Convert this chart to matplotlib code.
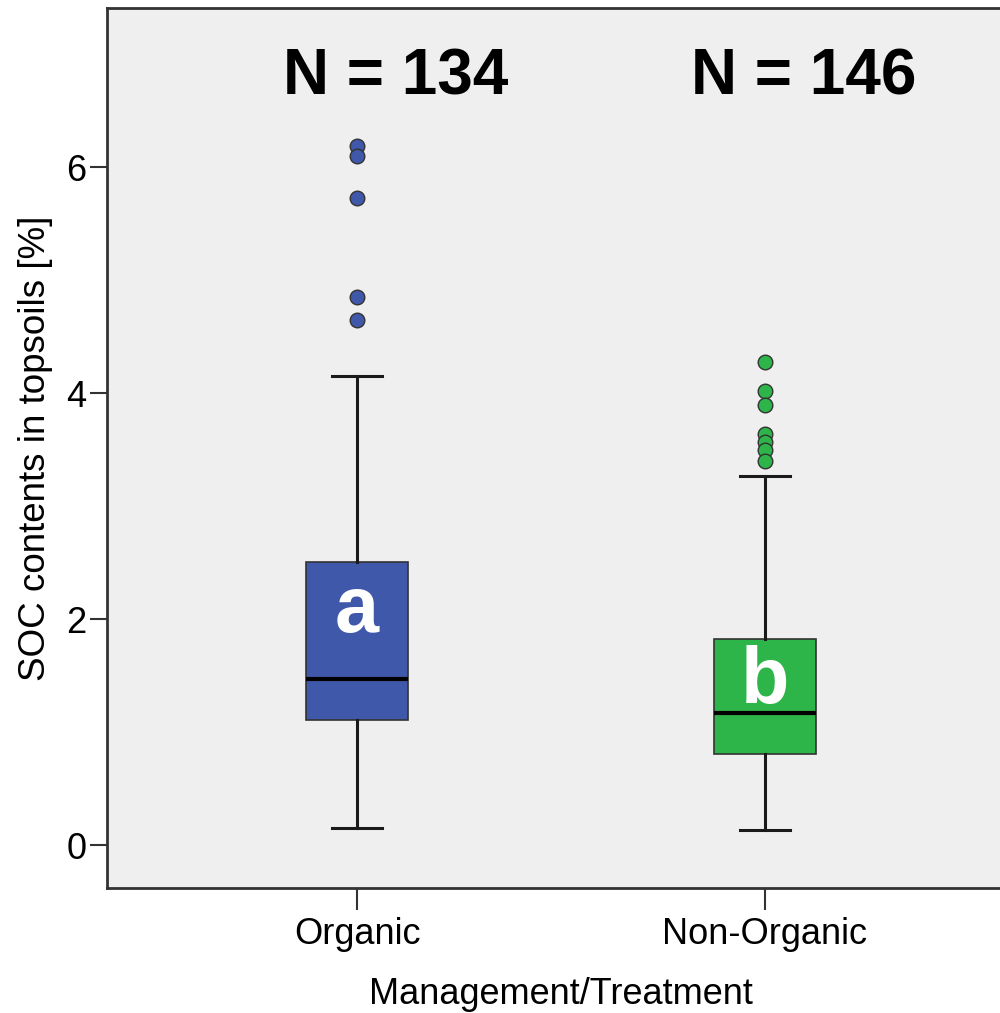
import matplotlib
matplotlib.use("Agg")
import matplotlib.pyplot as plt

plt.rcParams['font.family'] = ['Liberation Sans', 'DejaVu Sans']

categories = ["Organic", "Non-Organic"]
counts = [134, 146]
letters = ["a", "b"]
whislo = [0.15, 0.13]
q1 = [1.106, 0.805]
med = [1.469, 1.168]
q3 = [2.504, 1.823]
whishi = [4.15, 3.27]
fliers_organic = [6.19, 6.10, 5.73, 4.85, 4.65]
fliers_nonorganic = [4.28, 4.02, 3.90, 3.64, 3.57, 3.50, 3.40]
letter_y = [1.885, 1.257]
colors = ["#3F58A9", "#2DB54A"]

fig = plt.figure(figsize=(10, 10.13), dpi=100)
ax = fig.add_axes([0.107, 0.1234, 0.908, 0.8687])
ax.set_facecolor("#EFEFEF")

positions = [1, 2]
fliers = [fliers_organic, fliers_nonorganic]
stats = []
for i in range(2):
    stats.append(dict(label=categories[i], whislo=whislo[i], q1=q1[i], med=med[i],
                      q3=q3[i], whishi=whishi[i], fliers=fliers[i]))

for i in range(2):
    ax.bxp([stats[i]], positions=[positions[i]], widths=0.25, patch_artist=True,
           capwidths=0.123,
           boxprops=dict(facecolor=colors[i], edgecolor="#333333", linewidth=1.2),
           medianprops=dict(color="black", linewidth=3),
           whiskerprops=dict(color="#1a1a1a", linewidth=2.2),
           capprops=dict(color="#1a1a1a", linewidth=2.2),
           flierprops=dict(marker='o', markerfacecolor=colors[i], markeredgecolor="#333333",
                           markersize=10.5, markeredgewidth=1.0, linestyle='none'),
           zorder=3)

for i in range(2):
    ax.text(positions[i], letter_y[i], letters[i], ha='center', va='baseline',
            fontsize=57, fontweight='bold', color='white', zorder=5)

for i in range(2):
    ax.text(positions[i] + 0.095, 6.64, "N = %d" % counts[i], ha='center', va='baseline',
            fontsize=46, fontweight='bold', color='black')

ax.set_xlim(0.387, 2.613)
ax.set_ylim(-0.38, 7.41)
ax.set_xticks(positions)
ax.set_xticklabels(categories)
ax.set_yticks([0, 2, 4, 6])
ax.tick_params(axis='both', labelsize=26, length=12, width=1.5, color="#333333", pad=3)
ax.tick_params(axis='x', length=16, pad=5)

for s in ['left', 'bottom', 'top']:
    ax.spines[s].set_color("#333333")
    ax.spines[s].set_linewidth(2)
ax.spines['right'].set_visible(False)

ax.set_xlabel("Management/Treatment", fontsize=26, labelpad=18)
ax.set_ylabel("SOC contents in topsoils [%]", fontsize=26.5, labelpad=9)

fig.savefig("out.png", dpi=100, facecolor='white')
